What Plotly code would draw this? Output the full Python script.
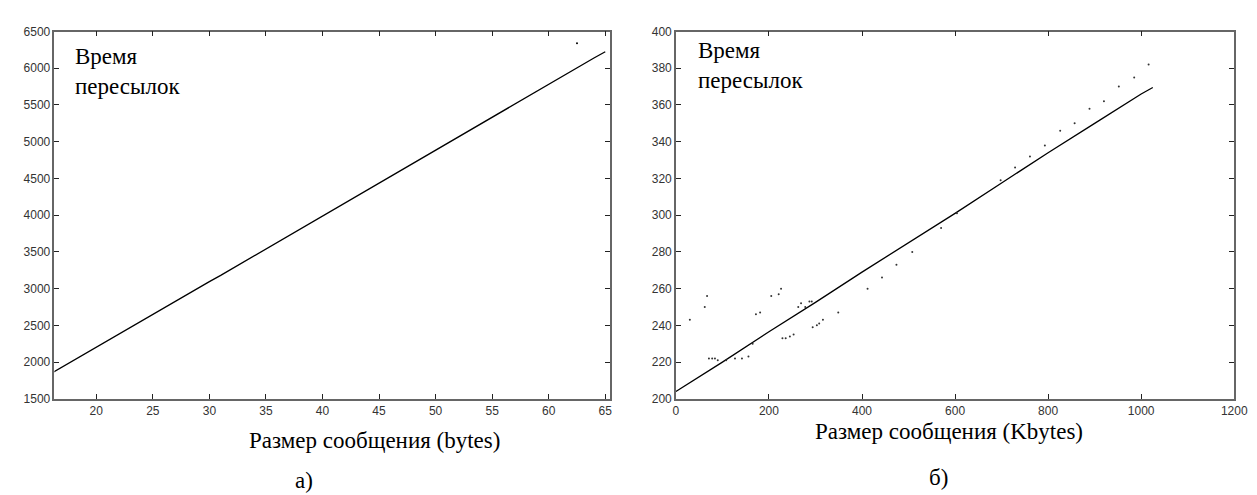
import plotly.graph_objects as go

# ---- panel a) data ----
a_x = list(range(16, 66))
a_y = [1845, 1935, 2025, 2115, 2200, 2290, 2380, 2470, 2560, 2645,
       2735, 2825, 2915, 3005, 3095, 3180, 3270, 3360, 3450, 3540,
       3630, 3715, 3805, 3895, 3985, 4075, 4165, 4250, 4340, 4430,
       4520, 4610, 4700, 4790, 4880, 4970, 5060, 5150, 5240, 5330,
       5420, 5510, 5600, 5690, 5780, 5870, 5960, 6050, 6140, 6225]
a_out_x = [62.5]
a_out_y = [6340]

# ---- panel б) data ----
b_x = [0, 100, 200, 300, 400, 500, 600, 700, 800, 900, 1000, 1025]
b_y = [204, 220, 236.5, 252.5, 269, 285, 301, 317.5, 334, 350, 366, 369.5]
b_out_x = [30, 62, 67, 71, 78, 84, 90, 108, 127, 142, 156, 165, 172, 181,
           205, 221, 226, 229, 236, 245, 253, 263, 269, 278, 287, 292,
           294, 303, 308, 316, 349, 412, 443, 474, 508, 570, 604,
           698, 729, 761, 793, 826, 857, 889, 920, 952, 985, 1016]
b_out_y = [243, 250, 256, 222, 222, 222, 221, 221, 222, 222, 223, 230, 246, 247,
           256, 257, 260, 233, 233, 234, 235, 250, 252, 250, 253, 253,
           239, 240, 241, 243, 247, 260, 266, 273, 280, 293, 301,
           319, 326, 332, 338, 346, 350, 358, 362, 370, 375, 382]

a_xticks = [20, 25, 30, 35, 40, 45, 50, 55, 60, 65]
a_yticks = [1500, 2000, 2500, 3000, 3500, 4000, 4500, 5000, 5500, 6000, 6500]
b_xticks = [0, 200, 400, 600, 800, 1000, 1200]
b_yticks = [200, 220, 240, 260, 280, 300, 320, 340, 360, 380, 400]

W, H = 1257, 495
fig = go.Figure()

fig.add_trace(go.Scatter(x=a_x, y=a_y, mode="lines",
                         line=dict(color="black", width=1.3),
                         xaxis="x", yaxis="y", showlegend=False))
fig.add_trace(go.Scatter(x=a_out_x, y=a_out_y, mode="markers",
                         marker=dict(color="black", size=2),
                         xaxis="x", yaxis="y", showlegend=False))
fig.add_trace(go.Scatter(x=b_x, y=b_y, mode="lines",
                         line=dict(color="black", width=1.3),
                         xaxis="x2", yaxis="y2", showlegend=False))
fig.add_trace(go.Scatter(x=b_out_x, y=b_out_y, mode="markers",
                         marker=dict(color="#333", size=2),
                         xaxis="x2", yaxis="y2", showlegend=False))

tickfont = dict(family="Liberation Sans", size=12, color="#333")
axcommon = dict(showgrid=False, zeroline=False, showline=True, linecolor="#666",
                linewidth=1.5, mirror="ticks", ticks="inside", ticklen=5,
                tickcolor="#222", tickwidth=1, tickfont=tickfont)

SERIF = "Liberation Serif, Tinos, Times New Roman, DejaVu Serif, Noto Serif, serif"

ydom = [(H - 395) / H, (H - 17) / H]
fig.update_layout(
    width=W, height=H,
    margin=dict(l=0, r=0, t=0, b=0),
    paper_bgcolor="white", plot_bgcolor="white",
    xaxis=dict(domain=[44 / W, 607 / W], range=[16.3, 65.4],
               tickvals=a_xticks, anchor="y", **axcommon),
    yaxis=dict(domain=ydom, range=[1500, 6500], tickvals=a_yticks,
               anchor="x", **axcommon),
    xaxis2=dict(domain=[674 / W, 1240 / W], range=[0, 1200],
                tickvals=b_xticks, anchor="y2", **axcommon),
    yaxis2=dict(domain=ydom, range=[200, 400], tickvals=b_yticks,
                anchor="x2", **axcommon),
)


def ann(text, x, y, size, xanchor="left"):
    fig.add_annotation(text=text, x=x / W, y=1 - y / H, xref="paper", yref="paper",
                       showarrow=False, xanchor=xanchor, yanchor="middle",
                       align="left",
                       font=dict(family=SERIF, size=size, color="black"))


ann("Время<br>пересылок", 63, 58, 23)
ann("Время<br>пересылок", 694, 52, 23)
ann("Размер сообщения (bytes)", 368, 438, 23, "center")
ann("а)", 297, 479, 23, "center")
ann("Размер сообщения (Kbytes)", 951, 429, 23, "center")
ann("б)", 940, 476, 23, "center")

fig.write_html("out.html")
